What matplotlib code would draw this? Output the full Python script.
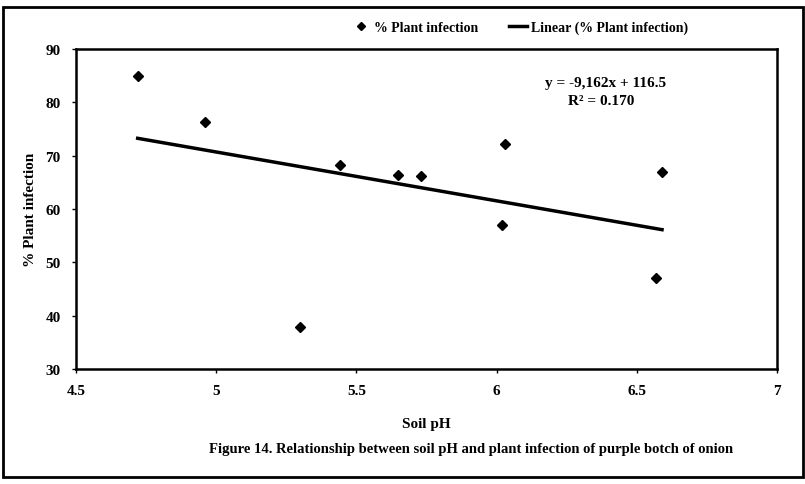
import numpy as np
import matplotlib
matplotlib.use('Agg')
import matplotlib.pyplot as plt
from matplotlib.patches import Rectangle
from matplotlib.lines import Line2D

plt.rcParams['font.family'] = ['Liberation Serif', 'DejaVu Serif']
plt.rcParams['font.weight'] = 'bold'

# soil pH vs % plant infection
soil_ph = [4.72, 4.96, 5.30, 5.44, 5.65, 5.73, 6.02, 6.03, 6.57, 6.59]
infection = [85.0, 76.3, 37.8, 68.2, 66.4, 66.1, 57.0, 72.2, 47.1, 67.0]
slope = -9.162
intercept = 116.5
r2 = 0.170
x_ticks = [4.5, 5, 5.5, 6, 6.5, 7]
y_ticks = [30, 40, 50, 60, 70, 80, 90]

fig = plt.figure(figsize=(8.05, 4.85), dpi=100)
ax = fig.add_axes([76/805, 1-370/485, (777-76)/805, (370-50)/485])

ax.plot(soil_ph, infection, 'D', color='black', markersize=5, label='% Plant infection')
xl = np.array([min(soil_ph), max(soil_ph)])
ax.plot(xl, slope*xl + intercept, color='black', lw=2.5, label='Linear (% Plant infection)')

ax.set_xlim(4.5, 7)
ax.set_ylim(30, 90)
ax.set_xticks(x_ticks)
ax.set_xticklabels(['4.5', '5', '5.5', '6', '6.5', '7'])
ax.set_yticks(y_ticks)
ax.tick_params(direction='out', length=3, width=1, labelsize=11, pad=8)
for s in ax.spines.values():
    s.set_linewidth(1.8)

ax.set_xlabel('Soil pH', fontsize=11, fontweight='bold', labelpad=14)
ax.set_ylabel('% Plant infection', fontsize=11, fontweight='bold', labelpad=6)

ax.text(0.756, 0.894, 'y = -9,162x + 116.5', transform=ax.transAxes, ha='center', va='center',
        fontsize=11, fontweight='bold')
ax.text(0.749, 0.838, 'R² = %.3f' % r2, transform=ax.transAxes, ha='center', va='center',
        fontsize=11, fontweight='bold')

handles = [Line2D([], [], marker='D', color='black', ls='none', markersize=4),
           Line2D([], [], color='black', lw=2.5)]
fig.legend(handles, ['% Plant infection', 'Linear (% Plant infection)'],
           loc='center', bbox_to_anchor=(520/805, 1-28/485), ncol=2, frameon=False,
           fontsize=10, handlelength=1.3, handletextpad=0.3, columnspacing=2.2)

fig.text(471/805, 1-450/485,
         'Figure 14. Relationship between soil pH and plant infection of purple botch of onion',
         ha='center', va='center', fontsize=10.5, fontweight='bold')

fig.patches.append(Rectangle((3/805, 1-478/485), 800/805, 470/485, transform=fig.transFigure,
                             fill=False, ec='black', lw=2))

fig.savefig('out.png', dpi=100)
